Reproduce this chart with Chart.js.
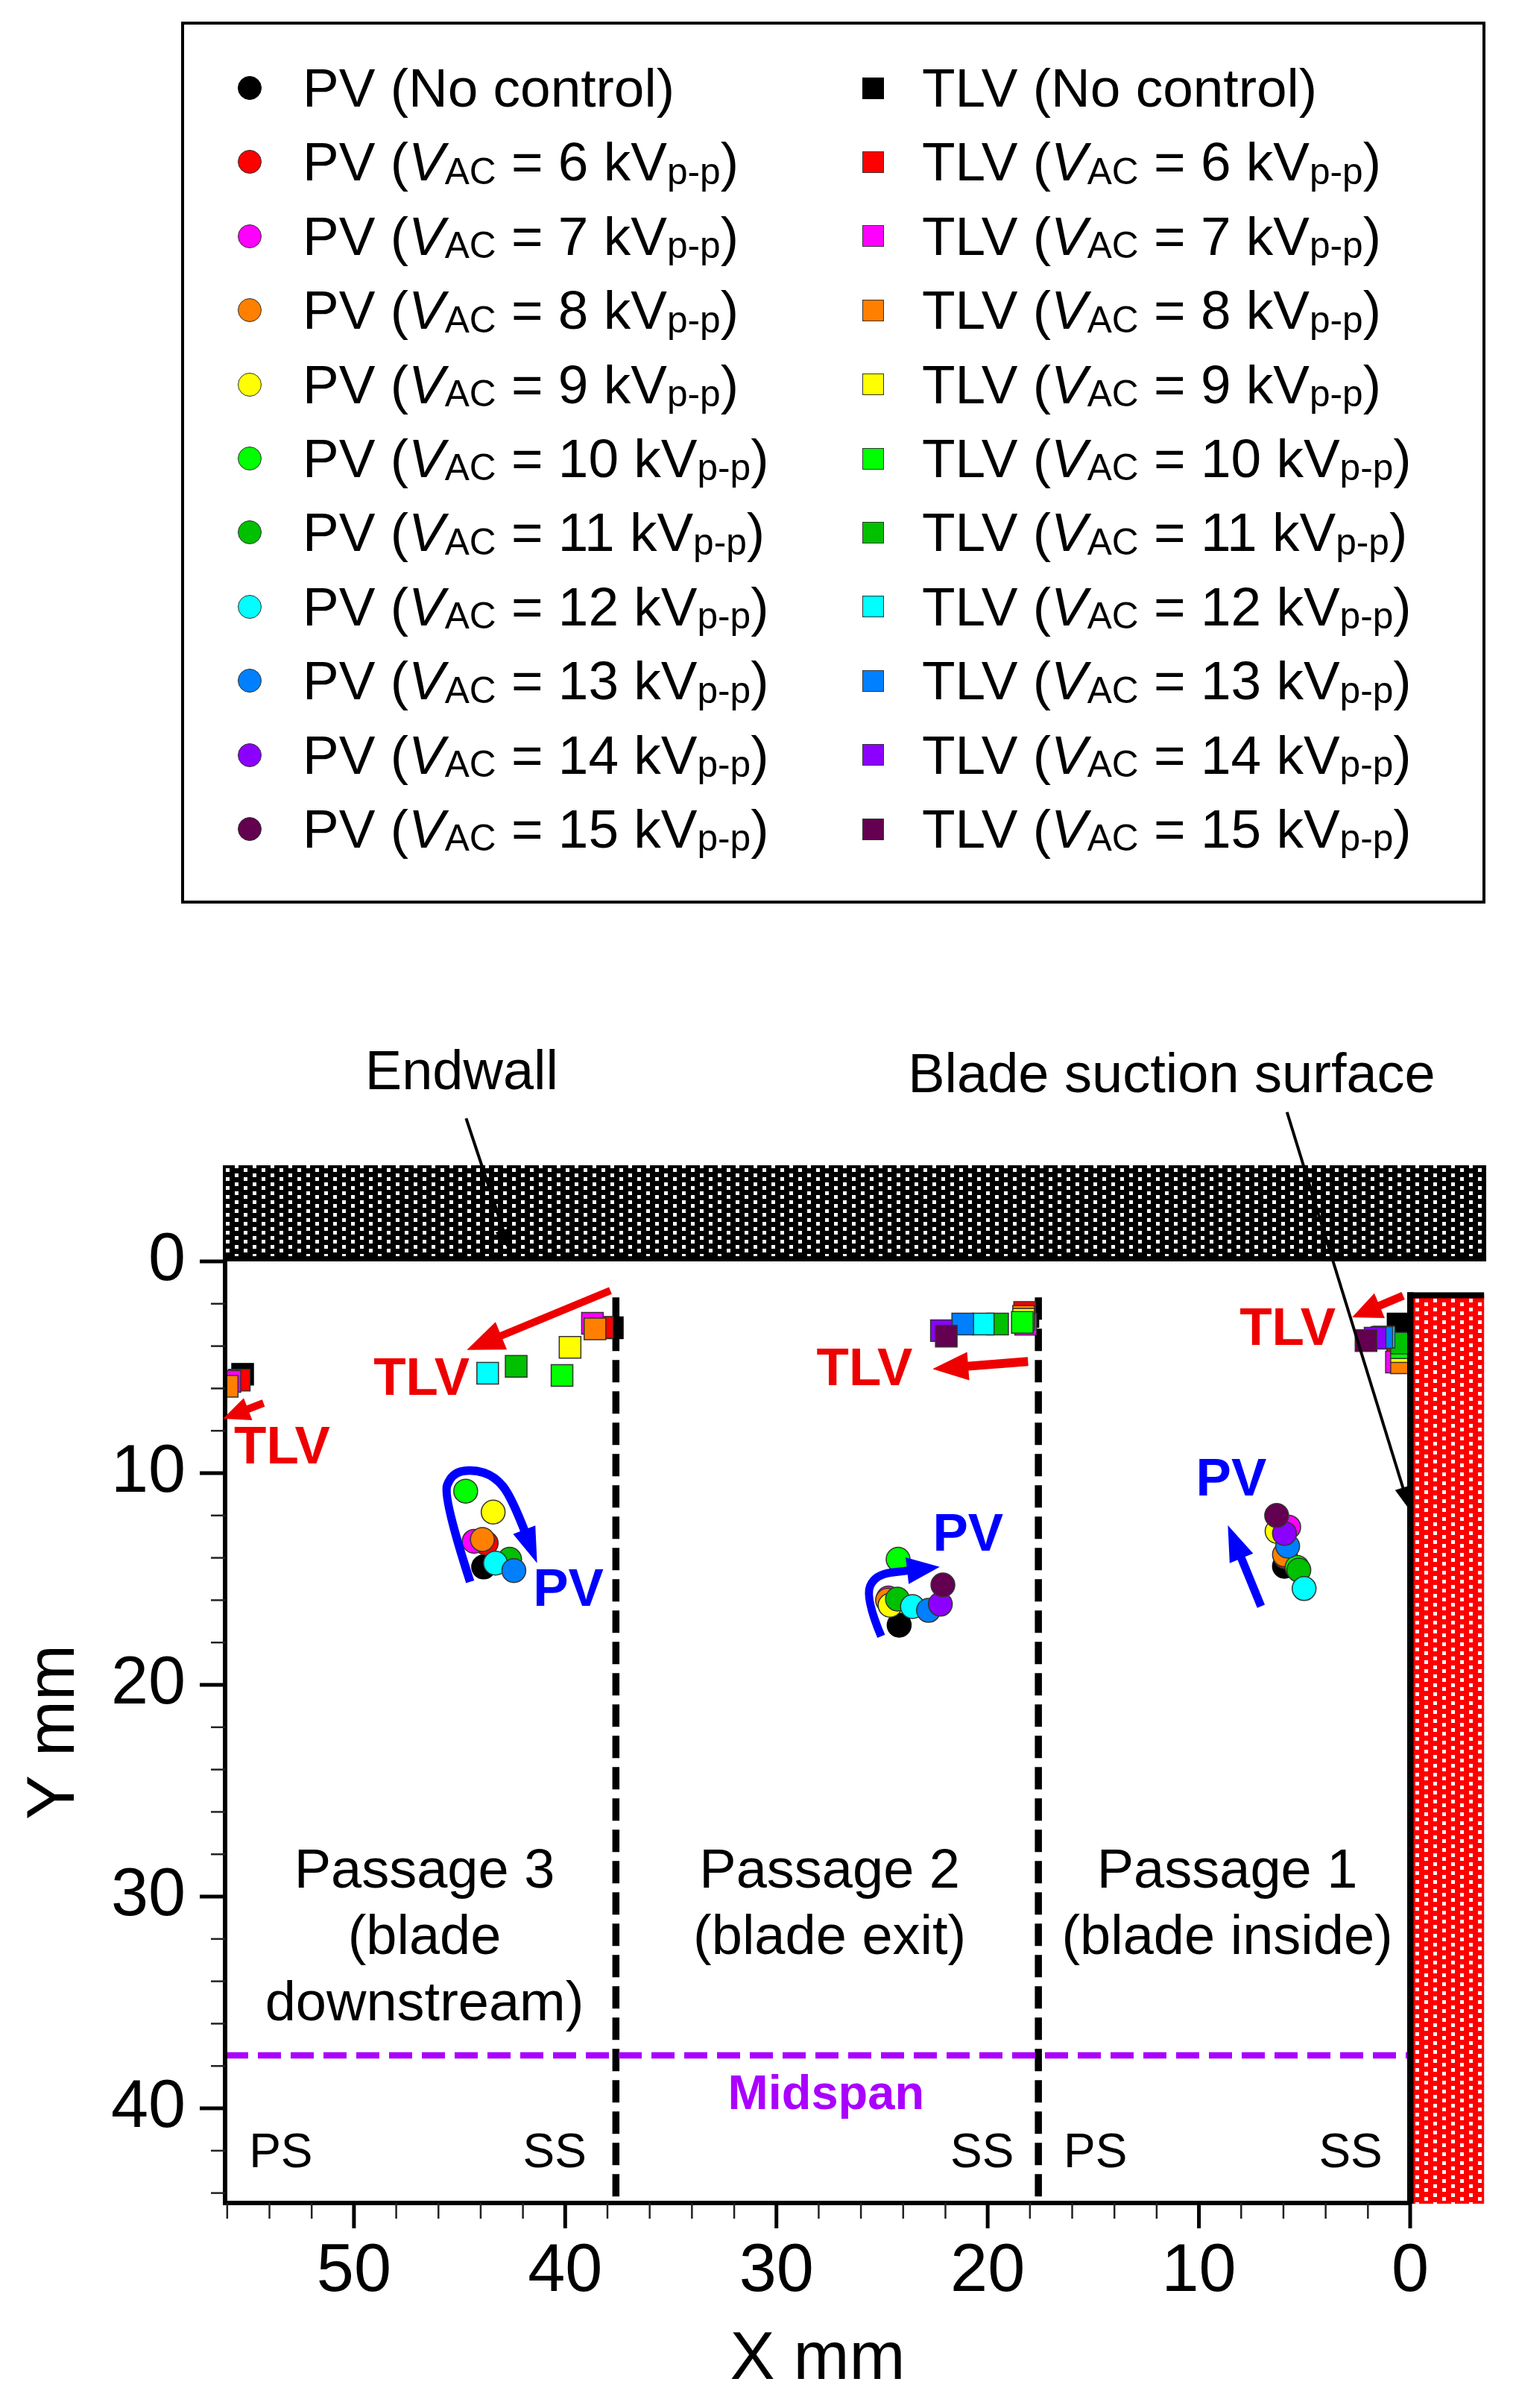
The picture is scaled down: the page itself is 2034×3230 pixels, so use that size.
<!DOCTYPE html>
<html><head><meta charset="utf-8">
<script src="https://cdn.jsdelivr.net/npm/chart.js@4.4.1/dist/chart.umd.min.js"></script>
<style>
html,body{margin:0;padding:0;background:#fff;}
#wrap{position:relative;width:2034px;height:3230px;overflow:hidden;background:#fff;}
#c{position:absolute;left:0;top:0;}
#legendBox{position:absolute;left:243px;top:29px;width:1750px;height:1183px;box-sizing:border-box;border:4px solid #000;}
.item{position:absolute;height:74px;line-height:74px;white-space:nowrap;font-family:"Liberation Sans",Arial,Helvetica,sans-serif;font-size:73px;color:#000;}
.item sub{font-size:0.68em;vertical-align:baseline;position:relative;top:0.09em;}
.mk{position:absolute;box-sizing:border-box;border:1.5px solid #333;}
</style></head>
<body>
<div id="wrap">
<canvas id="c" width="2034" height="3230"></canvas>
<div id="legendBox"></div>
</div>
<script>
// ---------------- data ----------------
const voltageLevels = [null, 6, 7, 8, 9, 10, 11, 12, 13, 14, 15]; // kVp-p, null = no control
const seriesColors = ['#000000','#ff0000','#ff00ff','#ff8000','#ffff00','#00ff00','#00c000','#00ffff','#0080ff','#8c00ff','#640050'];

// Passage-vortex (PV) centres, X mm / Y mm, one entry per series
const pvPassage3X = [43.86, 43.74, 44.31, 43.92, 43.41, 44.71, 42.63, 43.30, 42.43, null, null];
const pvPassage3Y = [14.43, 13.31, 13.22, 13.13, 11.84, 10.85, 14.07, 14.25, 14.60, null, null];
const pvPassage2X = [24.19, 24.60, 24.70, 24.74, 24.62, 24.24, 24.27, 23.56, 22.80, 22.24, 22.12];
const pvPassage2Y = [17.18, 16.00, 15.90, 16.00, 16.24, 14.07, 15.95, 16.30, 16.48, 16.19, 15.28];
const pvPassage1X = [5.95, 5.90, 5.75, 5.95, 6.30, 5.35, 5.27, 5.02, 5.80, 5.95, 6.32];
const pvPassage1Y = [14.40, 13.95, 12.55, 13.85, 12.75, 14.45, 14.58, 15.45, 13.45, 12.85, 12.00];

// Tip-leakage-vortex (TLV) centres
const tlvEdgeX     = [55.27, 55.43, 55.87, 56.00, null, null, null, null, null, null, null];
const tlvEdgeY     = [5.33, 5.61, 5.67, 5.90, null, null, null, null, null, null, null];
const tlvPassage3X = [37.77, 38.24, 38.71, 38.59, 39.77, 40.15, 42.32, 43.67, null, null, null];
const tlvPassage3Y = [3.13, 3.12, 2.92, 3.19, 4.06, 5.39, 4.96, 5.28, null, null, null];
const tlvPassage2X = [18.10, 18.25, 18.20, 18.30, 18.30, 18.36, 19.53, 20.21, 21.18, 22.19, 21.96];
const tlvPassage2Y = [2.60, 2.41, 2.97, 2.60, 2.74, 2.88, 2.96, 2.96, 2.96, 3.27, 3.53];
const tlvPassage1X = [0.57, 0.59, 0.65, 0.41, 0.41, 0.41, 0.41, 1.24, 1.34, 1.66, 2.09];
const tlvPassage1Y = [2.96, 4.26, 4.75, 4.79, 4.26, 4.08, 3.86, 3.57, 3.59, 3.63, 3.74];

// axes / reference lines
const xMajorTicks = [0, 10, 20, 30, 40, 50];
const yMajorTicks = [0, 10, 20, 30, 40];
const passageBoundaries = [37.6, 17.6];
const midspanY = 37.5;

// ---------------- legend (HTML, real text) ----------------
const FONT = '"Liberation Sans", Arial, Helvetica, sans-serif';
const wrap = document.getElementById('wrap');
voltageLevels.forEach((v, i) => {
  const y = 118 + 99.4 * i;
  const lab = v === null ? '(No control)' : '(<i>V</i><sub>AC</sub> = ' + v + ' kV<sub>p-p</sub>)';
  const c1 = document.createElement('div');
  c1.className = 'mk';
  c1.style.cssText = `left:${335-16}px;top:${y-16}px;width:32px;height:32px;border-radius:50%;background:${seriesColors[i]};` + (i===0?'border-color:#000;':'');
  wrap.appendChild(c1);
  const t1 = document.createElement('div');
  t1.className = 'item'; t1.style.left = '406px'; t1.style.top = (y - 37) + 'px';
  t1.innerHTML = 'PV ' + lab; wrap.appendChild(t1);
  const c2 = document.createElement('div');
  c2.className = 'mk';
  c2.style.cssText = `left:${1171-14.5}px;top:${y-14.5}px;width:29px;height:29px;background:${seriesColors[i]};` + (i===0?'border-color:#000;':'');
  wrap.appendChild(c2);
  const t2 = document.createElement('div');
  t2.className = 'item'; t2.style.left = '1237px'; t2.style.top = (y - 37) + 'px';
  t2.innerHTML = 'TLV ' + lab; wrap.appendChild(t2);
});

// ---------------- datasets ----------------
function pts(xs, ys, i) {
  return xs.map((x, k) => ({x: xs[k][i], y: ys[k][i]})).filter(p => p.x !== null && p.y !== null);
}
const datasets = [];
voltageLevels.forEach((v, i) => {
  const name = v === null ? 'No control' : 'VAC = ' + v + ' kVp-p';
  datasets.push({
    label: 'PV (' + name + ')',
    data: pts([pvPassage3X, pvPassage2X, pvPassage1X], [pvPassage3Y, pvPassage2Y, pvPassage1Y], i),
    pointStyle: 'circle', pointRadius: 16, pointHoverRadius: 16,
    backgroundColor: seriesColors[i], borderColor: i === 0 ? '#000' : '#333', borderWidth: 1.5,
    order: 200 - i, clip: false
  });
  datasets.push({
    label: 'TLV (' + name + ')',
    data: pts([tlvEdgeX, tlvPassage3X, tlvPassage2X, tlvPassage1X], [tlvEdgeY, tlvPassage3Y, tlvPassage2Y, tlvPassage1Y], i),
    pointStyle: 'rect', pointRadius: 20.5, pointHoverRadius: 20.5,
    backgroundColor: seriesColors[i], borderColor: i === 0 ? '#000' : '#333', borderWidth: 1.5,
    order: 100 - i, clip: {left: 0, top: false, right: false, bottom: false}
  });
});

// ---------------- helpers ----------------
function makeDotPattern(ctx, bg) {
  const cv = document.createElement('canvas'); cv.width = 24; cv.height = 24;
  const g = cv.getContext('2d');
  g.fillStyle = bg; g.fillRect(0, 0, 24, 24);
  g.fillStyle = '#fff';
  [[3, 2], [3, 14], [15, 7], [15, 19]].forEach(([x, y]) => g.fillRect(x, y, 5, 5));
  return ctx.createPattern(cv, 'repeat');
}
function drawArrow(c, P, color, lw, hl, hw) {
  const n = P.length;
  const [tx, ty] = P[n-1], [bx, by] = P[n-2];
  const d = Math.hypot(tx - bx, ty - by), ux = (tx - bx) / d, uy = (ty - by) / d;
  const ex = tx - ux * hl * 0.85, ey = ty - uy * hl * 0.85;
  c.save();
  c.strokeStyle = color; c.fillStyle = color; c.lineWidth = lw; c.lineCap = 'butt'; c.lineJoin = 'round';
  c.setLineDash([]);
  c.beginPath(); c.moveTo(P[0][0], P[0][1]);
  if (n === 2) c.lineTo(ex, ey);
  else {
    for (let i = 1; i < n - 2; i++) {
      c.quadraticCurveTo(P[i][0], P[i][1], (P[i][0] + P[i+1][0]) / 2, (P[i][1] + P[i+1][1]) / 2);
    }
    c.quadraticCurveTo(P[n-2][0], P[n-2][1], ex, ey);
  }
  c.stroke();
  c.beginPath(); c.moveTo(tx, ty);
  c.lineTo(tx - ux * hl - uy * hw / 2, ty - uy * hl + ux * hw / 2);
  c.lineTo(tx - ux * hl + uy * hw / 2, ty - uy * hl - ux * hw / 2);
  c.closePath(); c.fill();
  c.restore();
}
function text(c, s, x, y, font, color) {
  c.font = font; c.fillStyle = color; c.textAlign = 'center'; c.textBaseline = 'middle';
  c.fillText(s, x, y);
}

const RED = '#ee0000', BLUE = '#0000ff', PURPLE = '#aa00ff';

const deco = {
  id: 'deco',
  beforeDatasetsDraw(chart) {
    const c = chart.ctx, X = v => chart.scales.x.getPixelForValue(v), Y = v => chart.scales.y.getPixelForValue(v);
    c.save();
    // passage boundaries
    c.strokeStyle = '#000'; c.lineWidth = 9.5; c.setLineDash([30, 12]);
    passageBoundaries.forEach(b => { c.beginPath(); c.moveTo(X(b), Y(1.7)); c.lineTo(X(b), Y(44.47)); c.stroke(); });
    // midspan
    c.strokeStyle = PURPLE; c.lineWidth = 8.5; c.setLineDash([31, 13]);
    c.beginPath(); c.moveTo(X(56.1), Y(midspanY)); c.lineTo(X(0), Y(midspanY)); c.stroke();
    c.setLineDash([]);
    const F = '74px ' + FONT;
    text(c, 'Passage 3', X(46.66), Y(28.87), F, '#000');
    text(c, '(blade', X(46.66), Y(32.0), F, '#000');
    text(c, 'downstream)', X(46.66), Y(35.13), F, '#000');
    text(c, 'Passage 2', X(27.48), Y(28.87), F, '#000');
    text(c, '(blade exit)', X(27.48), Y(32.0), F, '#000');
    text(c, 'Passage 1', X(8.66), Y(28.87), F, '#000');
    text(c, '(blade inside)', X(8.66), Y(32.0), F, '#000');
    const FS = '64px ' + FONT;
    text(c, 'PS', X(53.46), Y(42.17), FS, '#000');
    text(c, 'SS', X(40.5), Y(42.17), FS, '#000');
    text(c, 'SS', X(20.26), Y(42.17), FS, '#000');
    text(c, 'PS', X(14.9), Y(42.17), FS, '#000');
    text(c, 'SS', X(2.82), Y(42.17), FS, '#000');
    text(c, 'Midspan', X(27.65), Y(39.4), 'bold 65px ' + FONT, PURPLE);
    c.restore();
  },
  afterDatasetsDraw(chart) {
    const c = chart.ctx, X = v => chart.scales.x.getPixelForValue(v), Y = v => chart.scales.y.getPixelForValue(v);
    const a = chart.chartArea;
    c.save();
    // axes lines
    c.strokeStyle = '#000'; c.lineWidth = 6;
    c.beginPath(); c.moveTo(a.left, Y(0)); c.lineTo(a.left, a.bottom); c.lineTo(X(0), a.bottom); c.stroke();
    // ticks
    c.lineWidth = 5;
    xMajorTicks.forEach(v => { c.beginPath(); c.moveTo(X(v), a.bottom); c.lineTo(X(v), a.bottom + 34); c.stroke(); });
    yMajorTicks.forEach(v => { c.beginPath(); c.moveTo(a.left, Y(v)); c.lineTo(a.left - 34, Y(v)); c.stroke(); });
    c.lineWidth = 2.5; c.strokeStyle = '#222';
    for (let v = 2; v <= 56; v += 2) if (v % 10) { c.beginPath(); c.moveTo(X(v), a.bottom); c.lineTo(X(v), a.bottom + 21); c.stroke(); }
    for (let v = 2; v <= 44; v += 2) if (v % 10) { c.beginPath(); c.moveTo(a.left, Y(v)); c.lineTo(a.left - 19, Y(v)); c.stroke(); }
    // endwall
    const ewL = X(56.1) - 3, ewR = X(-3.6), ewT = Y(-4.54), ewB = Y(0);
    c.fillStyle = makeDotPattern(c, '#000');
    c.fillRect(ewL, ewT, ewR - ewL, ewB - ewT);
    c.fillStyle = '#000'; c.fillRect(ewL, ewB - 7, ewR - ewL, 7);
    // blade
    const bL = X(0), bR = X(-3.5), bT = Y(1.6), bB = a.bottom + 1;
    c.fillStyle = makeDotPattern(c, '#ff0000');
    c.fillRect(bL, bT, bR - bL, bB - bT);
    c.fillStyle = '#000';
    c.fillRect(bL - 4, bT - 4, bR - bL + 4, 8);
    c.fillRect(bL - 4, bT - 4, 8.5, bB - bT + 4);
    // TLV arrows and labels
    drawArrow(c, [[X(37.86), Y(1.38)], [X(44.66), Y(4.18)]], RED, 10, 50, 40);
    drawArrow(c, [[X(54.28), Y(6.69)], [X(56.2), Y(7.43)]], RED, 10, 36, 32);
    drawArrow(c, [[X(18.09), Y(4.73)], [X(22.61), Y(5.08)]], RED, 12, 48, 38);
    drawArrow(c, [[X(0.33), Y(1.62)], [X(2.75), Y(2.64)]], RED, 11, 40, 36);
    const FB = 'bold 71px ' + FONT;
    text(c, 'TLV', X(46.8), Y(5.63), FB, RED);
    text(c, 'TLV', X(53.4), Y(8.84), FB, RED);
    text(c, 'TLV', X(25.83), Y(5.15), FB, RED);
    text(c, 'TLV', X(5.8), Y(3.24), FB, RED);
    // PV arrows and labels
    drawArrow(c, [[X(44.5), Y(15.13)], [X(45.8), Y(11.13)], [X(45.37), Y(10.0)], [X(44.35), Y(9.82)], [X(43.34), Y(10.15)], [X(42.55), Y(11.1)], [X(41.33), Y(14.25)]], BLUE, 11.5, 48, 32);
    drawArrow(c, [[X(25.04), Y(17.71)], [X(25.8), Y(15.89)], [X(25.33), Y(14.78)], [X(23.74), Y(14.6)], [X(22.27), Y(14.43)]], BLUE, 11, 44, 36);
    drawArrow(c, [[X(7.06), Y(16.29)], [X(8.63), Y(12.46)]], BLUE, 11, 48, 34);
    text(c, 'PV', X(39.85), Y(15.56), FB, BLUE);
    text(c, 'PV', X(20.93), Y(12.98), FB, BLUE);
    text(c, 'PV', X(8.47), Y(10.37), FB, BLUE);
    // pointers
    drawArrow(c, [[X(44.69), Y(-6.76)], [X(42.6), Y(-0.48)]], '#000', 4, 30, 22);
    drawArrow(c, [[X(5.83), Y(-7.05)], [X(0.01), Y(11.76)]], '#000', 4, 32, 22);
    text(c, 'Endwall', X(44.9), Y(-8.84), '74px ' + FONT, '#000');
    text(c, 'Blade suction surface', X(11.29), Y(-8.7), '74px ' + FONT, '#000');
    c.restore();
  }
};

new Chart(document.getElementById('c'), {
  type: 'scatter',
  data: {datasets},
  options: {
    responsive: false, devicePixelRatio: 1, animation: false, events: [],
    layout: {padding: {top: 1692, right: 142, bottom: 0, left: 0}},
    plugins: {legend: {display: false}, tooltip: {enabled: false}},
    scales: {
      x: {
        type: 'linear', reverse: true, min: 0, max: 56.1,
        afterBuildTicks: s => { s.ticks = xMajorTicks.map(v => ({value: v})); },
        afterFit: s => { s.height = 275; },
        grid: {display: false, drawTicks: false, tickLength: 0},
        border: {display: false},
        ticks: {autoSkip: false, maxRotation: 0, padding: 48, color: '#000', font: {family: FONT, size: 90, lineHeight: 1}, callback: v => String(v)},
        title: {display: true, text: 'X mm', color: '#000', font: {family: FONT, size: 90, lineHeight: 1.2}, padding: {top: 0, bottom: 10}}
      },
      y: {
        type: 'linear', reverse: true, min: 0, max: 44.47,
        afterBuildTicks: s => { s.ticks = yMajorTicks.map(v => ({value: v})); },
        afterFit: s => { s.width = 302; },
        grid: {display: false, drawTicks: false, tickLength: 0},
        border: {display: false},
        ticks: {autoSkip: false, padding: 53, color: '#000', font: {family: FONT, size: 90, lineHeight: 1}, callback: v => String(v)},
        title: {display: true, text: 'Y mm', color: '#000', font: {family: FONT, size: 90, lineHeight: 1.2}, padding: {top: 20, bottom: 0}}
      }
    }
  },
  plugins: [deco]
});
</script>
</body></html>
